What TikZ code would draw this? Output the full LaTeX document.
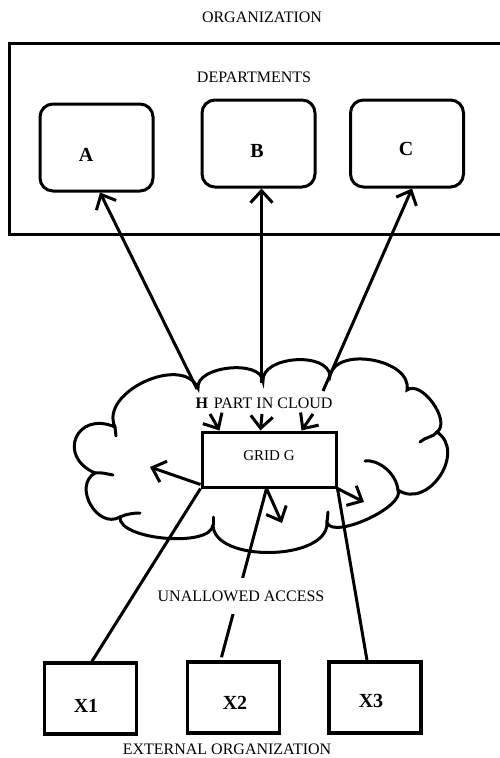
\documentclass[tikz,border=0pt]{standalone}
\usepackage{fontspec}
\setmainfont{Liberation Serif}
\usetikzlibrary{arrows.meta,calc}
\begin{document}
\begin{tikzpicture}[x=1pt,y=-1pt,line width=3pt,
  txt/.style={font=\fontsize{16}{18}\selectfont, inner sep=0pt},
  big/.style={font=\fontsize{20}{22}\selectfont\bfseries, inner sep=0pt},
  deptbox/.style={draw, rounded corners=13pt, minimum width=113pt, minimum height=87pt, inner sep=0pt},
  xbox/.style={draw, line width=3.5pt, minimum width=92pt, minimum height=71pt, inner sep=0pt},
  arr/.style={-{Straight Barb[length=12pt,width=22pt]}},
  cl/.style={line width=3pt, line cap=round},
]
\useasboundingbox (0,0) rectangle (500,758);

% organization
\node[txt] (org) at (262,17) {ORGANIZATION};
\node[draw, minimum width=510pt, minimum height=191pt, anchor=north west, inner sep=0pt] (orgbox) at (8,42) {};
\node[txt] (deps) at (254,77) {DEPARTMENTS};
\node[deptbox] (A) at (96.5,147.5) {};
\node[deptbox] (B) at (258.5,143.5) {};
\node[deptbox] (C) at (407,143.5) {};
\node[big] (la) at (86,155) {A};
\node[big] (lb) at (257,151) {B};
\node[big] (lc) at (406,149) {C};

% cloud
\coordinate (q1) at (115,427);
\coordinate (q2) at (198,388);
\coordinate (q3) at (263,381);
\coordinate (q4) at (330,376);
\coordinate (q5) at (407,390);
\coordinate (q6) at (437,432);
\coordinate (q7) at (398,490);
\coordinate (q8) at (327,523);
\coordinate (q9) at (213,525);
\coordinate (q10) at (120,517);
\coordinate (q11) at (95,473);
\draw[cl] (q1)
  .. controls ($(q1)!38pt!90:(q2)$) and ($(q2)!38pt!-90:(q1)$) .. (q2)
  .. controls ($(q2)!22pt!90:(q3)$) and ($(q3)!22pt!-90:(q2)$) .. (q3)
  .. controls ($(q3)!25pt!90:(q4)$) and ($(q4)!25pt!-90:(q3)$) .. (q4)
  .. controls ($(q4)!31pt!90:(q5)$) and ($(q5)!31pt!-90:(q4)$) .. (q5)
  .. controls ($(q5)!18pt!90:(q6)$) and ($(q6)!18pt!-90:(q5)$) .. (q6)
  .. controls ($(q6)!36pt!90:(q7)$) and ($(q7)!36pt!-90:(q6)$) .. (q7)
  .. controls ($(q7)!18pt!90:(q8)$) and ($(q8)!18pt!-90:(q7)$) .. (q8)
  .. controls ($(q8)!38pt!90:(q9)$) and ($(q9)!38pt!-90:(q8)$) .. (q9)
  .. controls ($(q9)!23pt!90:(q10)$) and ($(q10)!23pt!-90:(q9)$) .. (q10)
  .. controls ($(q10)!26pt!90:(q11)$) and ($(q11)!26pt!-90:(q10)$) .. (q11)
  .. controls ($(q11)!42pt!90:(q1)$) and ($(q1)!42pt!-90:(q11)$) .. (q1);
% inner ticks of the cloud
\draw[cl] (q1) -- ++(1,9);
\draw[cl] (q11) .. controls ++(6,-1) and ++(-6,-1) .. ++(18,2);
\draw[cl] (q10) .. controls ++(6,-3) and ++(-6,0) .. ++(20,-4);
\draw[cl] (q9) -- ++(0,-8);
\draw[cl] (q8) -- ++(1,-11);
\draw[cl] (q7) .. controls ++(-2,-18) and ++(12,-2) .. ++(-33,-29);
\draw[cl] (q6) .. controls ++(-3,5) and ++(5,-5) .. ++(-17,10);

\node[txt] (hpart) at (264,403) {\textbf{H}\hspace{6pt}PART IN CLOUD};
\node[draw, minimum width=134pt, minimum height=55pt, text depth=7pt, inner sep=0pt,
      font=\fontsize{15}{17}\selectfont] (grid) at (269,459.5) {GRID G};

% links cloud -> departments
\coordinate (hA) at (197,389);
\coordinate (hB) at (261.5,383);
\coordinate (hC) at (323,391);
\draw[arr] (hA) -- ([xshift=3.5pt]A.south);
\draw[arr] (hB) -- ([xshift=3pt]B.south);
\draw[arr] (hC) -- ([xshift=5pt]C.south);

% arrows into grid
\coordinate (s1) at (210,414);
\coordinate (s2) at (262,414);
\coordinate (s3) at (313,414);
\draw[arr] (s1) -- ([xshift=19pt]grid.north west);
\draw[arr] (s2) -- ([xshift=60pt]grid.north west);
\draw[arr] (s3) -- ([xshift=101pt]grid.north west);

% arrows out of grid
\coordinate (e1) at (150,467);
\coordinate (e2) at (282,523);
\coordinate (e3) at (364,502);
\draw[arr] ([yshift=4pt]grid.south west) -- (e1);
\draw[arr] ([xshift=66pt]grid.south west) -- (e2);
\draw[arr] (grid.south east) -- (e3);

% external organization
\node[xbox] (X1) at (90.5,698.5) {};
\node[xbox] (X2) at (233.5,697.5) {};
\node[xbox] (X3) at (375,697.5) {};
\node[big] (lx1) at (86,706) {X1};
\node[big] (lx2) at (235,703) {X2};
\node[big] (lx3) at (371,701) {X3};

\draw (grid.south west) -- ([xshift=1.5pt]X1.north);
\draw ([xshift=66pt]grid.south west) -- ([xshift=-12pt,yshift=3pt]X2.north);
\draw (grid.south east) -- ([xshift=-8pt]X3.north);

\node[txt, fill=white, inner xsep=3pt, inner ysep=13pt] (unall) at (241,596) {UNALLOWED ACCESS};
\node[txt] (ext) at (227,749.5) {EXTERNAL ORGANIZATION};
\end{tikzpicture}
\end{document}
